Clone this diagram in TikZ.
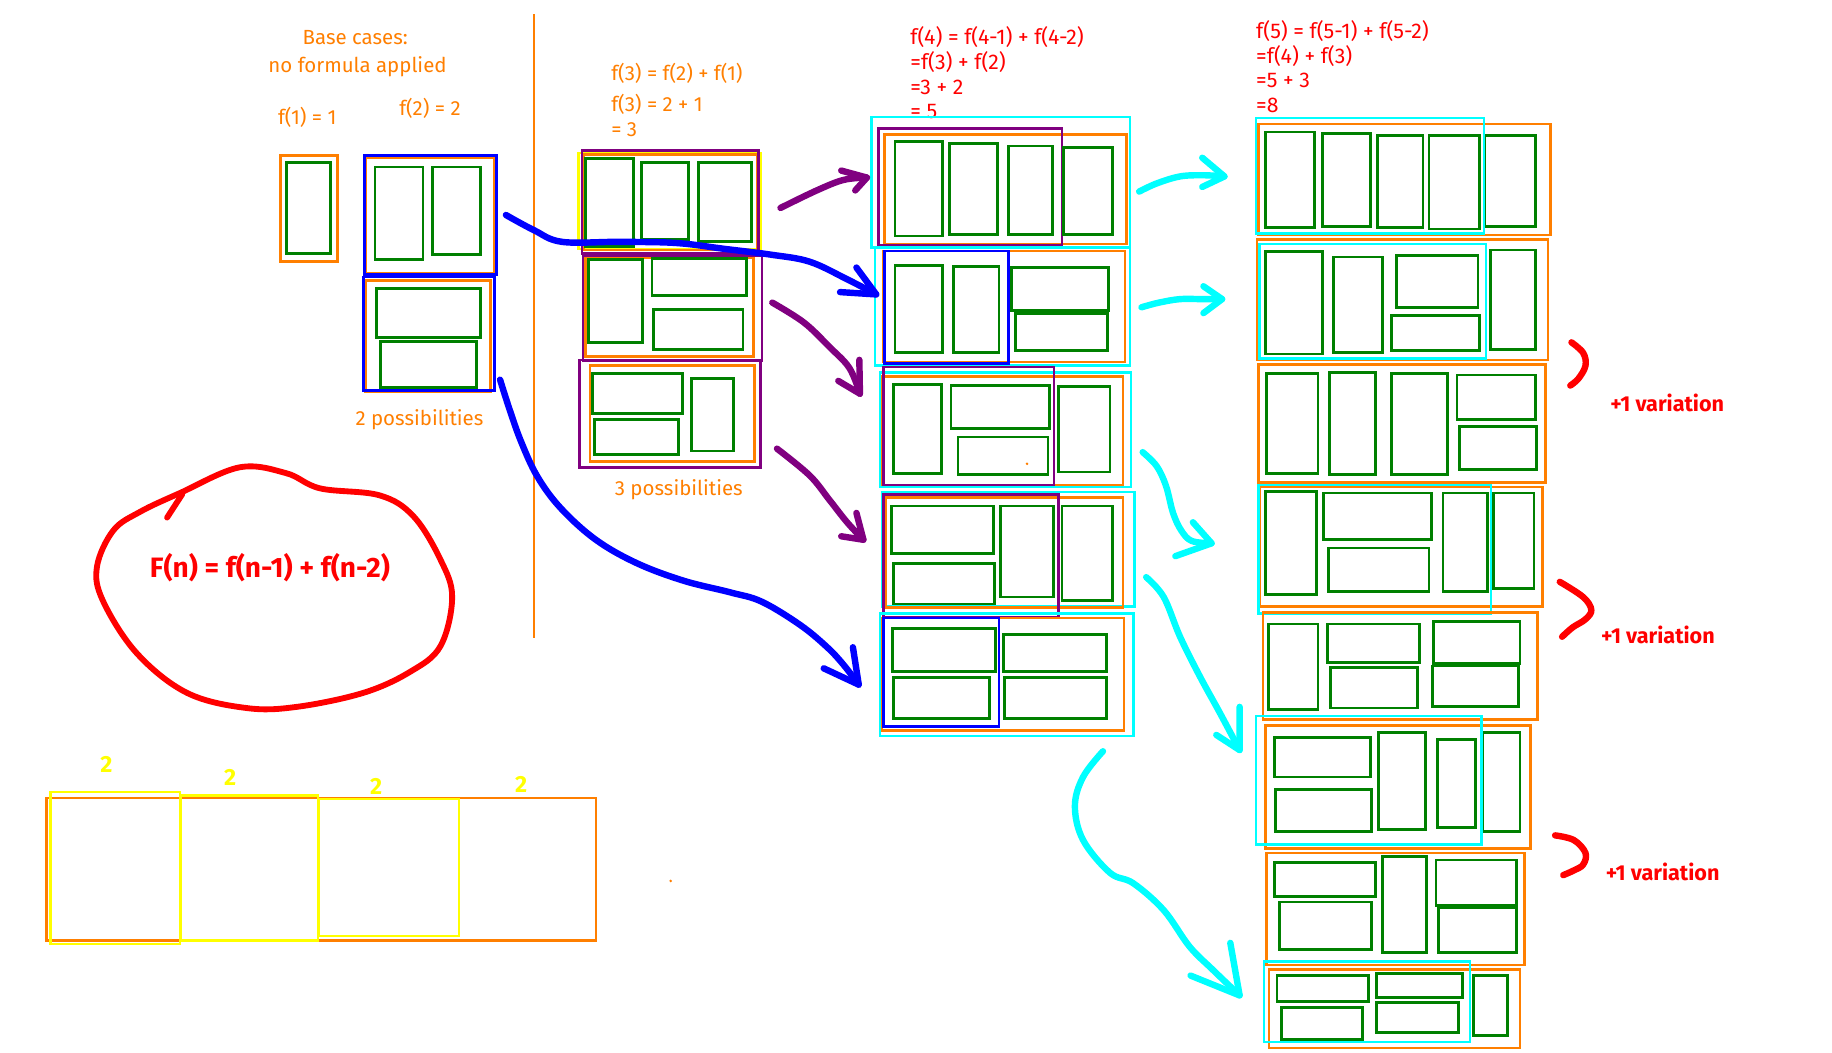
\documentclass[tikz,border=0pt]{standalone}
\usepackage{fontspec}
\setmainfont{Fira Sans}
\definecolor{org}{RGB}{255,127,0}
\definecolor{grn}{RGB}{0,128,0}
\definecolor{blu}{RGB}{0,0,255}
\definecolor{pur}{RGB}{128,0,128}
\definecolor{cya}{RGB}{0,255,255}
\definecolor{yel}{RGB}{255,255,0}
\definecolor{rd}{RGB}{255,0,0}
\newcommand\myrect[3]{\draw[#1] (#2) rectangle (#3);}
\begin{document}
\begin{tikzpicture}[x=1pt,y=-1pt,
  gb/.style={draw=grn,line width=2.4pt},
  ob/.style={draw=org,line width=2.2pt},
  bb/.style={draw=blu,line width=2.2pt},
  pb/.style={draw=pur,line width=2.2pt},
  cb/.style={draw=cya,line width=2.2pt},
  yb/.style={draw=yel,line width=2.2pt},
  pen/.style={line width=5.5pt,line cap=round,line join=round},
  otxt/.style={text=org,font=\fontsize{17.5}{21}\selectfont,inner sep=0pt},
  rtxt/.style={text=rd,font=\fontsize{18.2}{21}\selectfont,inner sep=0pt},
  vtxt/.style={text=rd,font=\fontsize{18.5}{20}\selectfont\bfseries,inner sep=0pt},
  ytxt/.style={text=yel,font=\fontsize{20}{22}\selectfont\bfseries,inner sep=0pt}]
\useasboundingbox[fill=white] (0,0) rectangle (1568,901);

% ---------- texts ----------
\node[otxt,anchor=base] (t1) at (304,38.5) {Base cases:};
\node[otxt,anchor=base] (t2) at (306,62) {no formula applied};
\node[otxt,anchor=base] (t3) at (263,106.5) {f(1) = 1};
\node[otxt,anchor=base] (t4) at (368,98.5) {f(2) = 2};
\node[otxt,anchor=base] (t5) at (359,364) {2 possibilities};
\node[otxt,anchor=base] (t6) at (581,424) {3 possibilities};
\node[otxt,anchor=base west] (t7) at (523,68.5) {f(3) = f(2) + f(1)};
\node[otxt,anchor=base west] (t8) at (523,95.5) {f(3) = 2 + 1};
\node[otxt,anchor=base west] (t9) at (523,116.5) {= 3};
\node[rtxt,anchor=base west] (r1) at (779,38) {f(4) = f(4-1) + f(4-2)};
\node[rtxt,anchor=base west] (r2) at (779,59.5) {=f(3) + f(2)};
\node[rtxt,anchor=base west] (r3) at (779,80.7) {=3 + 2};
\node[rtxt,anchor=base west] (r4) at (779,101.5) {= 5};
\node[rtxt,anchor=base west] (s1) at (1075,32.8) {f(5) = f(5-1) + f(5-2)};
\node[rtxt,anchor=base west] (s2) at (1075,54) {=f(4) + f(3)};
\node[rtxt,anchor=base west] (s3) at (1075,75) {=5 + 3};
\node[rtxt,anchor=base west] (s4) at (1075,96) {=8};
\node[text=rd,font=\fontsize{24}{26}\selectfont\bfseries,inner sep=0pt,anchor=base] (fn) at (231,494) {F(n) = f(n-1) + f(n-2)};
\node[vtxt,anchor=base] (v1) at (1427,352.5) {+1 variation};
\node[vtxt,anchor=base] (v2) at (1419,550.5) {+1 variation};
\node[vtxt,anchor=base] (v3) at (1423,753.5) {+1 variation};
\node[ytxt,anchor=base] (y1) at (91,661) {2};
\node[ytxt,anchor=base] (y2) at (197,672) {2};
\node[ytxt,anchor=base] (y3) at (322,680) {2};
\node[ytxt,anchor=base] (y4) at (446,678) {2};

% ---------- divider ----------
\draw[org,line width=2.4pt] (457,12) -- (457,546);

% ---------- base cases ----------
\myrect{ob}{240,133}{289,224}
\myrect{gb}{245,139}{283,217}
\myrect{ob}{313,135}{423,234}
\myrect{gb}{321,143}{362,222}
\myrect{gb}{370,143}{411,218}
\myrect{bb}{312,133}{425,235}
\myrect{ob}{313,240}{420,335}
\myrect{gb}{322,247}{411,289}
\myrect{gb}{326,292}{408,332}
\myrect{bb}{311,237}{423,334}

% ---------- f(3) ----------
\myrect{yb}{495,131}{651,213}
\myrect{ob}{500,132}{648,214}
\myrect{pb}{498,129}{649,217}
\myrect{gb}{501,136}{542,211}
\myrect{gb}{549,139}{589,205}
\myrect{gb}{598,139}{643,207}
\myrect{ob}{501,221}{645,305}
\myrect{pb}{499,219}{652,309}
\myrect{gb}{504,222}{550,293}
\myrect{gb}{558,221}{639,253}
\myrect{gb}{559,265}{636,299}
\myrect{ob}{505,313}{646,395}
\myrect{pb}{496,308}{651,400}
\myrect{gb}{507,320}{584,354}
\myrect{gb}{509,359}{581,389}
\myrect{gb}{592,324}{628,386}

% ---------- f(4) ----------
\myrect{cb}{746,100}{967,212}
\myrect{ob}{757,115}{964,209}
\myrect{pb}{752,110}{909,210}
\myrect{gb}{766,121}{807,202}
\myrect{gb}{813,123}{854,201}
\myrect{gb}{863,125}{901,201}
\myrect{gb}{910,126}{952,201}

\myrect{cb}{749,212}{967,313}
\myrect{ob}{756,215}{963,310}
\myrect{bb}{757,215}{863,311}
\myrect{gb}{766,227}{807,302}
\myrect{gb}{816,228}{855,302}
\myrect{gb}{866,229}{949,266}
\myrect{gb}{869,268}{948,300}

\myrect{cb}{753,319}{968,417}
\myrect{ob}{755,322}{961,415}
\myrect{pb}{756,314}{902,415}
\myrect{gb}{765,329}{806,405}
\myrect{gb}{814,330}{898,367}
\myrect{gb}{820,374}{897,406}
\myrect{gb}{906,331}{950,404}
\fill[org] (879,397) circle (1.2pt);

\myrect{cb}{755,421}{971,519}
\myrect{ob}{758,426}{961,520}
\myrect{pb}{756,423}{906,528}
\myrect{gb}{763,433}{850,474}
\myrect{gb}{765,482}{851,517}
\myrect{gb}{856,433}{902,511}
\myrect{gb}{909,433}{952,514}

\myrect{cb}{753,525}{970,630}
\myrect{ob}{755,529}{962,625}
\myrect{bb}{756,529}{855,622}
\myrect{gb}{764,538}{852,575}
\myrect{gb}{765,580}{847,615}
\myrect{gb}{859,543}{947,575}
\myrect{gb}{860,580}{947,615}

% ---------- f(5) ----------
\myrect{ob}{1077,106}{1327,201}
\myrect{gb}{1083,113}{1125,195}
\myrect{gb}{1132,114}{1173,194}
\myrect{gb}{1179,116}{1218,195}
\myrect{gb}{1223,116}{1266,196}
\myrect{gb}{1271,116}{1314,194}
\myrect{cb}{1075,101}{1270,200}

\myrect{ob}{1076,205}{1325,308}
\myrect{gb}{1083,215}{1132,303}
\myrect{gb}{1141,220}{1183,302}
\myrect{gb}{1195,219}{1265,263}
\myrect{gb}{1191,270}{1266,300}
\myrect{gb}{1276,214}{1314,299}
\myrect{cb}{1078,209}{1272,307}

\myrect{ob}{1077,312}{1323,413}
\myrect{gb}{1084,320}{1128,405}
\myrect{gb}{1138,319}{1177,406}
\myrect{gb}{1191,320}{1239,406}
\myrect{gb}{1247,321}{1314,359}
\myrect{gb}{1249,365}{1315,402}

\myrect{ob}{1078,417}{1320,519}
\myrect{gb}{1083,421}{1127,509}
\myrect{gb}{1133,422}{1225,462}
\myrect{gb}{1137,469}{1223,506}
\myrect{gb}{1235,422}{1273,506}
\myrect{gb}{1278,422}{1313,504}
\myrect{cb}{1077,415}{1276,525}

\myrect{ob}{1081,524}{1316,616}
\myrect{gb}{1086,534}{1128,607}
\myrect{gb}{1136,534}{1215,567}
\myrect{gb}{1139,571}{1213,606}
\myrect{gb}{1227,532}{1301,568}
\myrect{gb}{1226,570}{1300,605}

\myrect{ob}{1083,621}{1310,726}
\myrect{gb}{1091,631}{1173,665}
\myrect{gb}{1092,676}{1174,712}
\myrect{gb}{1180,627}{1220,710}
\myrect{gb}{1230,633}{1263,708}
\myrect{gb}{1269,627}{1301,712}
\myrect{cb}{1075,613}{1268,723}

\myrect{ob}{1084,730}{1305,826}
\myrect{gb}{1091,738}{1177,767}
\myrect{gb}{1095,772}{1174,813}
\myrect{gb}{1183,733}{1221,815}
\myrect{gb}{1229,736}{1298,775}
\myrect{gb}{1231,777}{1298,815}

\myrect{ob}{1086,830}{1301,897}
\myrect{gb}{1093,835}{1171,857}
\myrect{gb}{1097,862}{1166,890}
\myrect{gb}{1178,833}{1252,854}
\myrect{gb}{1178,858}{1248,884}
\myrect{gb}{1261,835}{1290,886}
\myrect{cb}{1082,823}{1258,892}

% ---------- bottom strip ----------
\myrect{ob}{40,683}{510,805}
\myrect{yb}{43,678}{154,808}
\myrect{yb}{155,681}{272,805}
\myrect{yb}{273,684}{393,801}
\fill[org] (574,754) circle (1.2pt);

% ---------- hand-drawn arrows ----------
% blue 1
\coordinate (b1s) at (433,184);
\coordinate (b1e) at (750,252);
\draw[pen,blu] plot[smooth,tension=0.6] coordinates {(b1s) (457,197) (481,207) (530,207) (579,208) (620,213) (660,218) (693,224) (725,239) (b1e)};
\draw[pen,blu] (733,229) -- (b1e) -- (719,250);
% blue 2
\coordinate (b2s) at (428,325);
\coordinate (b2e) at (735,586);
\draw[pen,blu] plot[smooth,tension=0.6] coordinates {(b2s) (436,350) (446,378) (460,408) (480,435) (510,462) (545,482) (585,497) (625,507) (652,515) (685,535) (708,554) (722,569) (b2e)};
\draw[pen,blu] (730,554) -- (b2e) -- (705,572);
% purple 1
\coordinate (p1s) at (668,178);
\coordinate (p1e) at (742,152);
\draw[pen,pur] plot[smooth,tension=0.6] coordinates {(p1s) (699,163) (722,154) (p1e)};
\draw[pen,pur] (720,146) -- (p1e) -- (732,163);
% purple 2
\coordinate (p2s) at (661,259);
\coordinate (p2e) at (736,337);
\draw[pen,pur] plot[smooth,tension=0.6] coordinates {(p2s) (688,276) (710,297) (727,315) (p2e)};
\draw[pen,pur] (735.5,308) -- (p2e) -- (717.5,326);
% purple 3
\coordinate (p3s) at (665,384);
\coordinate (p3e) at (739,462);
\draw[pen,pur] plot[smooth,tension=0.6] coordinates {(p3s) (693,407) (710,428) (725,447) (p3e)};
\draw[pen,pur] (733,439) -- (p3e) -- (720,459);
% cyan 1
\coordinate (c1s) at (975,164);
\coordinate (c1e) at (1048,151);
\draw[pen,cya] plot[smooth,tension=0.6] coordinates {(c1s) (990,157) (1010,151) (1030,150) (c1e)};
\draw[pen,cya] (1029,135) -- (c1e) -- (1029,160);
% cyan 2
\coordinate (c2s) at (977,263);
\coordinate (c2e) at (1046,256);
\draw[pen,cya] plot[smooth,tension=0.6] coordinates {(c2s) (992,259) (1010,256) (1028,256) (c2e)};
\draw[pen,cya] (1030,245) -- (c2e) -- (1030,268);
% cyan 3
\coordinate (c3s) at (978,387);
\coordinate (c3e) at (1037,465);
\draw[pen,cya] plot[smooth,tension=0.6] coordinates {(c3s) (990,399) (998,416) (1004,439) (1011,454) (1020,463) (c3e)};
\draw[pen,cya] (1021,447) -- (c3e) -- (1006,476);
% cyan 4
\coordinate (c4s) at (981,494);
\coordinate (c4e) at (1061,642);
\draw[pen,cya] plot[smooth,tension=0.6] coordinates {(c4s) (996,511) (1010,545) (1027,579) (1044,610) (c4e)};
\draw[pen,cya] (1061,605) -- (c4e) -- (1041,629);
% cyan 5
\coordinate (c5s) at (944,643);
\coordinate (c5e) at (1061,852);
\draw[pen,cya] plot[smooth,tension=0.6] coordinates {(c5s) (927,665) (920,690) (927,719) (950,747) (970,756) (996,779) (1018,810) (1038,830) (c5e)};
\draw[pen,cya] (1053,807) -- (c5e) -- (1019,835);

% ---------- red loop ----------
\draw[pen,rd,line width=5pt] plot[smooth cycle,tension=0.6] coordinates {(154,422) (205,400) (245,405) (274,418) (325,424) (354,442) (377,479) (387,511) (377,553) (351,575) (311,593) (254,605) (211,606) (160,593) (117,559) (88,514) (83,485) (97,454) (120,438)};
\coordinate (hk1) at (143,443);
\coordinate (hk2) at (156,423);
\draw[pen,rd,line width=5pt] (hk1) -- (hk2);

% ---------- red brackets ----------
\draw[pen,rd] plot[smooth,tension=0.6] coordinates {(1345,293) (1355,302) (1357,313) (1351,324) (1344,330)};
\draw[pen,rd] plot[smooth,tension=0.6] coordinates {(1335,498) (1355,511) (1362,522) (1357,530) (1346,537) (1337,545)};
\draw[pen,rd] plot[smooth,tension=0.6] coordinates {(1331,715) (1347,719) (1357,730) (1355,740) (1347,745) (1338,749)};
\end{tikzpicture}
\end{document}
